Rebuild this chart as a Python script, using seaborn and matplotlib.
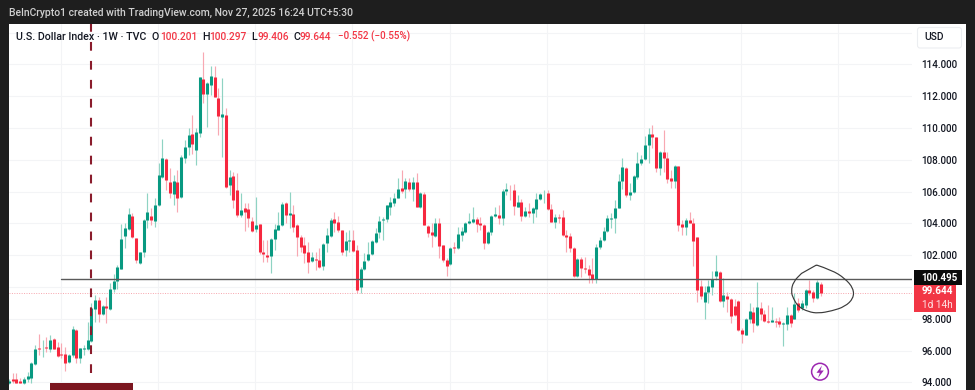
import numpy as np
import pandas as pd
import matplotlib
matplotlib.use("Agg")
import matplotlib.pyplot as plt
import seaborn as sns
from matplotlib.patches import Rectangle, Circle, FancyBboxPatch, PathPatch, Polygon
from matplotlib.path import Path
from matplotlib.transforms import Affine2D

# ---------- data (weekly DXY candles) ----------
opens = [93.95,94.22,94.2,94.07,93.95,94.22,94.3,95.18,96.15,96.15,96.21,96.08,96.73,96.21,95.79,95.79,95.29,95.71,97.32,95.56,
96.11,96.13,96.61,98.6,99.17,98.29,98.83,98.62,99.86,100.38,101.14,103.23,103.65,104.47,103.06,101.49,102.18,104.22,104.49,104.15,
105.17,106.95,108.04,106.59,105.84,106.64,105.69,108.13,108.84,109.61,108.63,109.68,113.07,112.15,112.72,113.24,111.92,110.68,110.83,106.43,
107.01,106.11,104.53,104.95,104.89,104.16,103.65,103.95,102.23,102.02,101.95,103.02,103.59,103.9,105.27,104.53,104.6,103.9,103.17,102.65,
102.23,101.64,101.77,101.7,101.35,102.75,103.23,104.27,104.1,103.6,102.34,102.88,102.97,102.34,99.99,101.14,101.71,102.07,102.86,103.45,
104.22,104.29,105.06,105.31,105.59,106.22,106.15,106.63,106.17,106.63,105.06,105.84,103.87,103.47,103.22,104.01,102.65,101.71,101.44,102.53,
102.49,103.3,103.49,104.01,104.08,104.31,104.01,103.93,102.76,103.47,104.5,104.54,104.33,106.03,106.19,106.11,105.06,105.36,104.5,104.77,
104.64,104.94,105.52,105.84,105.9,104.92,104.1,104.41,104.39,103.28,103.2,102.48,100.72,101.77,101.23,101.12,100.81,100.49,102.51,102.97,
103.53,104.29,104.37,105.0,106.7,107.52,105.8,105.98,106.95,107.79,108.04,108.94,109.63,109.42,107.47,108.52,108.1,106.85,106.7,107.61,
103.95,103.76,104.22,104.05,103.13,100.09,99.08,99.67,100.03,100.72,100.95,99.12,99.46,99.25,98.83,99.12,97.3,96.99,97.97,98.45,
97.62,98.71,98.31,97.87,97.82,97.89,97.85,97.68,97.68,98.24,98.0,98.98,98.66,98.87,99.82,99.67,99.29,100.20]
highs = [94.2,94.58,94.62,94.26,94.32,94.68,95.31,96.36,97.03,96.67,96.88,96.98,96.82,96.57,96.5,96.25,95.77,97.55,97.36,96.19,
96.36,97.82,98.98,99.5,99.4,98.87,99.4,100.23,100.8,101.39,103.95,104.01,105.0,104.64,103.11,102.23,104.28,105.89,104.95,105.62,
107.79,109.3,108.1,107.48,107.06,107.37,108.31,109.26,109.99,110.83,109.99,113.24,114.81,112.92,113.91,113.93,112.5,113.13,111.25,107.37,
107.27,107.16,105.89,105.27,105.27,104.43,105.69,103.95,102.96,102.96,103.07,103.95,104.7,105.37,105.37,105.96,105.16,103.95,103.27,103.17,
102.86,102.23,102.23,102.44,102.75,103.69,104.32,104.75,104.48,103.6,103.49,103.6,103.6,102.65,101.29,102.13,102.86,102.97,103.7,104.48,
104.43,105.17,105.69,105.9,106.84,107.37,106.84,106.84,106.95,107.16,106.0,106.0,103.91,104.01,104.33,104.33,102.65,101.81,102.55,102.86,
103.76,103.8,104.12,104.69,105.02,104.43,104.39,103.97,103.53,104.54,105.06,105.17,106.15,106.53,106.42,106.49,105.8,105.52,105.06,105.27,
105.02,105.9,105.94,106.11,106.11,105.23,104.6,104.6,104.85,103.6,103.43,102.55,101.81,101.92,101.92,101.39,101.81,102.72,103.18,103.8,
104.54,104.64,105.48,107.12,108.1,107.58,106.57,107.05,108.52,108.31,109.51,109.99,110.2,109.47,108.57,109.89,108.52,107.37,107.69,107.63,
104.22,104.32,104.74,104.36,103.17,100.45,100.09,100.45,101.01,102.02,101.01,100.55,99.71,99.29,99.25,99.19,97.45,98.03,98.98,98.77,
100.3,99.08,98.56,98.87,98.77,98.03,98.14,97.82,98.77,98.29,99.6,99.29,99.19,99.86,100.45,99.82,100.45,100.30]
lows = [93.9,93.95,93.95,93.95,93.93,94.05,93.99,95.1,95.73,95.62,95.94,95.94,96.08,95.62,95.52,94.72,95.2,95.62,95.25,95.25,
95.73,96.04,96.57,97.78,97.82,98.24,97.76,98.56,99.71,99.86,101.12,102.44,103.59,103.11,101.49,101.43,101.91,103.69,103.9,103.76,
105.13,106.85,106.11,105.59,105.17,104.75,105.59,107.79,108.31,108.38,107.68,109.42,111.56,110.09,112.09,111.98,109.57,108.21,106.22,105.8,
104.96,104.44,104.43,103.53,103.8,103.48,103.48,102.06,101.6,101.6,100.91,102.33,103.59,103.86,104.01,103.69,103.48,101.98,102.23,101.49,
100.86,101.6,101.07,101.18,101.07,102.23,103.17,103.49,103.49,102.02,101.96,102.23,102.23,99.61,99.66,101.08,101.65,102.02,102.8,103.07,
102.97,104.12,104.54,105.1,105.59,105.9,105.59,106.07,105.44,105.02,104.96,103.91,103.18,102.5,103.18,101.81,101.6,100.7,101.39,102.17,
102.38,102.92,103.43,103.97,104.01,103.49,103.6,102.4,102.72,103.28,104.43,103.97,103.91,105.8,105.48,104.54,105.02,104.14,104.43,104.43,
104.06,104.39,105.48,105.31,104.85,104.08,103.7,104.06,103.22,102.23,102.23,100.66,100.62,100.66,100.87,100.28,100.24,100.24,102.38,102.92,
103.49,103.7,103.43,104.96,106.15,105.65,105.48,105.9,106.78,107.68,108.0,107.79,108.73,107.27,107.06,107.27,106.57,106.22,106.22,103.53,
103.27,103.27,104.01,101.35,99.08,99.25,98.0,98.98,99.5,100.45,99.08,98.77,98.45,97.72,98.2,97.24,96.46,96.99,97.72,97.2,
97.57,97.93,97.82,97.72,97.78,97.51,97.51,96.32,97.3,97.51,98.0,98.45,98.56,98.66,99.5,99.04,99.25,99.41]
closes = [94.12,94.09,93.99,93.95,94.22,94.41,95.2,96.11,96.11,96.19,96.17,96.65,96.13,95.66,95.75,95.25,95.71,97.34,95.56,96.15,
96.19,96.69,98.71,99.17,98.29,98.83,98.68,99.86,100.38,101.28,103.0,103.69,104.6,103.17,101.7,102.18,104.22,104.74,104.22,105.16,
107.06,108.1,106.74,105.9,106.68,105.63,108.21,108.84,109.57,109.0,109.78,113.2,112.13,112.82,113.3,111.98,110.77,110.89,106.32,106.95,
105.48,104.54,104.85,104.74,104.32,103.53,103.9,102.23,102.06,101.91,103.0,103.65,103.9,105.22,104.53,104.64,103.76,103.13,102.5,102.12,
101.6,101.87,101.7,101.28,102.71,103.27,104.22,104.06,103.6,102.23,102.92,102.97,102.3,99.82,101.14,101.67,102.09,102.92,103.43,104.14,
104.29,105.15,105.34,105.59,106.15,106.07,106.68,106.15,106.59,105.06,105.9,103.93,103.43,103.26,104.06,102.61,101.71,101.35,102.44,102.49,
103.32,103.51,104.04,104.16,104.31,103.99,103.91,102.8,103.49,104.5,104.6,104.33,106.07,106.17,106.15,105.08,105.38,104.5,104.77,104.64,
104.96,105.57,105.86,105.88,104.89,104.12,104.43,104.37,103.26,103.18,102.44,100.72,101.77,101.23,101.12,100.77,100.49,102.55,102.97,103.53,
104.33,104.37,105.0,106.7,107.54,105.8,105.98,106.99,107.83,108.04,108.94,109.63,109.42,107.47,108.52,108.1,106.8,106.7,107.62,103.9,
103.76,104.22,104.05,102.92,99.82,99.46,99.67,100.09,100.49,101.01,99.15,99.5,99.23,98.2,98.24,97.3,97.05,97.97,98.52,97.72,
98.73,98.29,97.87,97.8,97.91,97.8,97.68,97.74,98.24,97.72,98.94,98.56,99.02,99.82,99.61,99.29,100.3,99.64]

price_ticks = [94,96,98,100,102,104,106,108,110,112,114,116]
price_tick_labels = ["94.000","96.000","98.000","","102.000","104.000","106.000","108.000","110.000","112.000","114.000",""]
time_grid = [13.9,39.9,65.8,91.8,117.8,143.8,169.7,195.7,221.7]
level_price = 100.495
last_price = 99.644
event_index = 21.9
level_start_index = 13.9
# freehand circle drawn on the chart (index, price)
circle_idx = [215.9,220.0,223.5,225.8,225.8,223.5,220.0,216.4,213.7,211.0,209.7,209.1,209.7,211.9,215.9]
circle_px = [101.39,101.07,100.55,99.92,99.29,98.77,98.5,98.35,98.45,98.77,99.29,99.71,100.34,100.86,101.39]

UP, DOWN = "#089981", "#f6283f"
UP_W, DOWN_W = "#8fd3c3", "#f8a8b2"
DARK, TXT = "#1e1e1e", "#131722"

sns.set_theme(style="white")
plt.rcParams["font.family"] = ["Roboto", "DejaVu Sans"]

n = len(closes)
idx = np.arange(n)
df = pd.DataFrame({"i": idx, "o": opens, "h": highs, "l": lows, "c": closes})
df["dir"] = np.where(df.c >= df.o, "up", "down")
wicks = df.melt(id_vars=["i", "dir"], value_vars=["h", "l"], value_name="price").sort_values(["i", "price"])
bodies = df.melt(id_vars=["i", "dir"], value_vars=["o", "c"], value_name="price").sort_values(["i", "price"])

W, H = 975, 390
fig = plt.figure(figsize=(W/100, H/100), dpi=100, facecolor=DARK)
def fx(x): return x / W
def fy(y): return 1 - y / H

fig.patches.append(Rectangle((fx(8.5), 0), fx(966-8.5), fy(23.5), transform=fig.transFigure,
                             facecolor="white", edgecolor="none", zorder=-1))

ax = fig.add_axes([fx(8.5), 0, fx(912-8.5), fy(23.5)], facecolor="none")

sns.lineplot(data=wicks, x="i", y="price", units="i", estimator=None, hue="dir",
             palette={"up": UP_W, "down": DOWN_W}, legend=False, sort=False, ax=ax,
             linewidth=0.85, solid_capstyle="butt", zorder=2)
sns.lineplot(data=bodies, x="i", y="price", units="i", estimator=None, hue="dir",
             palette={"up": UP, "down": DOWN}, legend=False, sort=False, ax=ax,
             linewidth=2.2, solid_capstyle="butt", zorder=3)

ax.set_xlim((8.5-9)/3.74, (912-9)/3.74)
ax.set_ylim(114-(390-64.5)/15.9, 114+(64.5-23.5)/15.9)
ax.set_xlabel(""); ax.set_ylabel("")
sns.despine(ax=ax, left=True, bottom=True)
ax.set_xticks(time_grid)
ax.set_xticklabels([])
ax.yaxis.tick_right()
ax.set_yticks(price_ticks)
ax.set_yticklabels(price_tick_labels, fontsize=7.1, color=TXT, fontweight="medium")
ax.tick_params(axis="both", length=0)
ax.tick_params(axis="y", pad=6.6)
ax.grid(True, color="#f3f4f6", linewidth=0.8, zorder=1)
ax.set_axisbelow(True)

# reference lines
ax.plot([level_start_index, (912-9)/3.74], [level_price]*2, color="#5a5a5a", lw=1.0, zorder=4)
ax.axhline(last_price, color="#f7a5ad", lw=0.7, ls=(0, (1, 1.5)), zorder=1.5)
ax.plot([event_index]*2, [114+(64.5-23.5)/15.9, 114-(373-64.5)/15.9], color="#8a1c2c", lw=1.5,
        ls=(0, (4.2, 4.9)), dash_capstyle="butt", zorder=4)

# freehand circle (quadratic segments between mid-points, starting from the peak)
cx, cy = np.array(circle_idx), np.array(circle_px)
verts = [(cx[0], cy[0])]; codes = [Path.MOVETO]
for k in range(1, len(cx)-1):
    end = (cx[k], cy[k]) if k == len(cx)-2 else ((cx[k]+cx[k+1])/2, (cy[k]+cy[k+1])/2)
    verts += [(cx[k], cy[k]), end]; codes += [Path.CURVE3, Path.CURVE3]
verts += [(cx[-1], cy[-1])]; codes += [Path.LINETO]
ax.add_patch(PathPatch(Path(verts, codes), fill=False, edgecolor="#3a3a3a", lw=0.85, zorder=5))

# pixel-space helper artists
px = Affine2D().scale(1, -1).translate(0, H)
def add(a):
    a.set_transform(px); fig.add_artist(a); return a

add(Rectangle((49.5, 383), 83.5, 7, facecolor="#7b1620", edgecolor="none"))
add(Circle((820, 371.7), 8.4, fill=False, edgecolor="#9c27b0", lw=1.1))
add(Polygon([(822,365.5),(816.5,372.8),(819.8,372.8),(818,378),(823.8,370.5),(820.4,370.5)],
            closed=True, facecolor="#9c27b0", edgecolor="none"))
add(FancyBboxPatch((917.5, 27.5), 44, 20.5, boxstyle="round,pad=0,rounding_size=2.5",
                   facecolor="white", edgecolor="#eceef1", lw=0.8))
add(Rectangle((913.5, 270), 48.5, 15, facecolor="#0b0b0b", edgecolor="none"))
add(Rectangle((913.5, 284.5), 42.5, 27, facecolor="#f23645", edgecolor="none"))

def t(x, y, s, **kw):
    kw.setdefault("va", "center"); kw.setdefault("ha", "left")
    kw.setdefault("fontsize", 7.6); kw.setdefault("color", TXT)
    return fig.text(fx(x), fy(y), s, **kw)

t(9, 13, "BeInCrypto1 created with TradingView.com, Nov 27, 2025 16:24 UTC+5:30", color="#d0d0d0", fontsize=7.5, fontweight="medium")
t(15.5, 36.5, "U.S. Dollar Index · 1W · TVC", fontsize=7.7, fontweight="medium")
RED = "#f23645"
for lx, vx, l, v in [(152, 160, "O", "100.201"), (202, 209, "H", "100.297"),
                     (251, 257, "L", "99.406"), (293, 300, "C", "99.644")]:
    t(lx, 36.5, l, fontsize=7.7, fontweight="medium")
    t(vx, 36.5, v, fontsize=7.3, color=RED, fontweight="medium")
t(338, 36.5, "−0.552 (−0.55%)", fontsize=7.1, color=RED, fontweight="medium")
t(924, 37.5, "USD", fontsize=7.4, fontweight="medium")
t(921.7, 278, "100.495", color="white", fontsize=7.0, fontweight="bold")
t(921.7, 291, "99.644", color="white", fontsize=7.2, fontweight="bold")
t(921.7, 304.5, "1d 14h", color="#ffe3e6", fontsize=7.2)

fig.savefig("out.png", dpi=100, facecolor=DARK)
